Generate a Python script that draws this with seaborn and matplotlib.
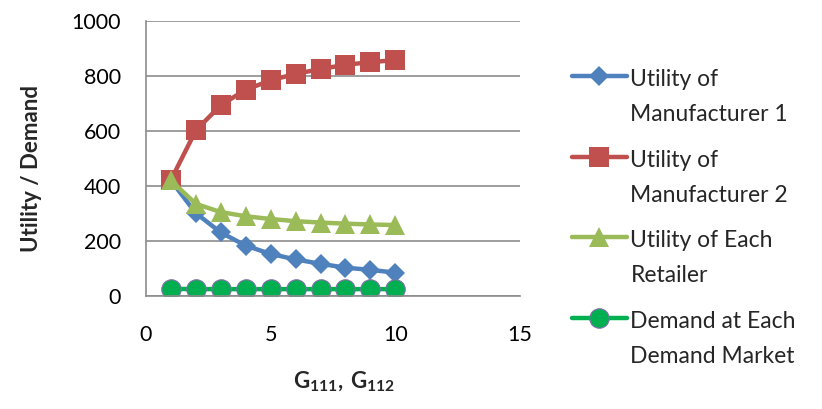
import matplotlib
matplotlib.use("Agg")
import matplotlib.pyplot as plt
import numpy as np
import pandas as pd
import seaborn as sns

# %% data
g_values = [1, 2, 3, 4, 5, 6, 7, 8, 9, 10]
manufacturer1 = [420, 301, 231, 183, 153, 133, 117, 103, 95, 85]
manufacturer2 = [422, 602, 694, 750, 784, 808, 825, 841, 850, 858]
retailer = [420, 335, 305, 290, 280, 272, 267, 263, 260, 258]
demand = [26, 25, 25, 25, 25, 25, 25, 25, 25, 25]

series_names = [
    "Utility of\nManufacturer 1",
    "Utility of\nManufacturer 2",
    "Utility of Each\nRetailer",
    "Demand at Each\nDemand Market",
]
x_ticks = [0, 5, 10, 15]
y_ticks = [0, 200, 400, 600, 800, 1000]

df = pd.DataFrame(
    {
        "G": g_values * 4,
        "value": manufacturer1 + manufacturer2 + retailer + demand,
        "series": [s for s in series_names for _ in g_values],
    }
)

# %% styling
sns.set_style("white")
plt.rcParams["font.family"] = ["Lato", "DejaVu Sans"]
plt.rcParams["mathtext.fontset"] = "custom"
plt.rcParams["mathtext.rm"] = "Lato"
plt.rcParams["mathtext.bf"] = "Lato:bold"

colors = ["#4F81BD", "#C0504D", "#9BBB59", "#00B050"]
markers = ["D", "s", "^", "o"]
sizes = [10, 14, 15, 14]

fig = plt.figure(figsize=(8.22, 4.09), dpi=100)
ax = fig.add_axes([0.1776, 0.2763, 0.4550, 0.6724])

for name, col, mk, ms in zip(series_names, colors, markers, sizes):
    sub = df[df["series"] == name]
    edge = "#7F6FA8" if mk == "o" else col
    sns.lineplot(
        data=sub,
        x="G",
        y="value",
        ax=ax,
        color=col,
        marker=mk,
        markersize=ms,
        markeredgecolor=edge,
        markeredgewidth=0.8 if mk == "o" else 0,
        linewidth=3.2,
        label=name,
    )

ax.set_xlim(0, 15)
ax.set_ylim(0, 1000)
ax.set_xticks(x_ticks)
ax.set_yticks(y_ticks)
ax.yaxis.grid(True, color="#8C8C8C", linewidth=1.2)
ax.xaxis.grid(False)
for side in ["top", "right"]:
    ax.spines[side].set_visible(False)
for side in ["left", "bottom"]:
    ax.spines[side].set_color("#8C8C8C")
    ax.spines[side].set_linewidth(1.2)
ax.tick_params(axis="both", length=0, labelsize=15.5, colors="black")
ax.tick_params(axis="x", pad=21)
ax.tick_params(axis="y", pad=18)

ax.set_xlabel(r"$\mathbf{G_{111},\,G_{112}}$", fontsize=16)
ax.set_ylabel("Utility / Demand", fontsize=16, fontweight="bold")
ax.xaxis.set_label_coords(0.53, -0.27)
ax.yaxis.set_label_coords(-0.278, 0.465)

leg = ax.legend(
    loc="upper left",
    bbox_to_anchor=(1.139, 0.825),
    borderaxespad=0,
    borderpad=0,
    frameon=False,
    fontsize=16.5,
    handlelength=2.4,
    handletextpad=0.15,
    labelspacing=1.08,
)
plt.setp(leg.get_texts(), linespacing=1.82)
# put each handle level with the first line of its label
for h in leg.legend_handles:
    h.set_ydata(np.asarray(h.get_ydata()) + 15.5)

fig.savefig("out.png", dpi=100)
